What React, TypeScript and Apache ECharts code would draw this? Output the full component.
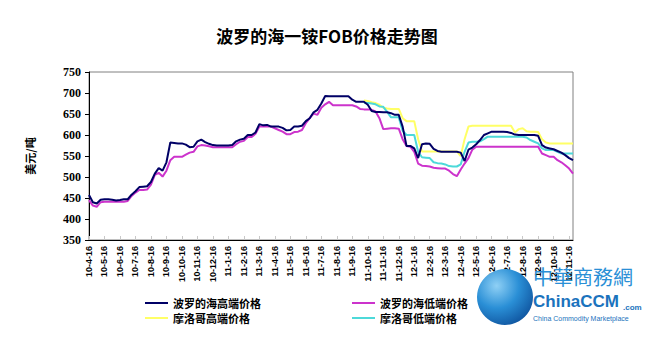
import React, { useEffect, useRef } from "react";
import * as echarts from "echarts";

const TITLE = "波罗的海一铵FOB价格走势图";
const Y_NAME = "美元/吨";
const SERIES_NAMES = ["波罗的海高端价格", "波罗的海低端价格", "摩洛哥高端价格", "摩洛哥低端价格"];

// month tick labels (each month split into 4 weekly slots)
const TICK_LABELS = [
  "10-4-16", "10-5-16", "10-6-16", "10-7-16", "10-8-16", "10-9-16", "10-10-16", "10-11-16",
  "10-12-16", "11-1-16", "11-2-16", "11-3-16", "11-4-16", "11-5-16", "11-6-16", "11-7-16",
  "11-8-16", "11-9-16", "11-10-16", "11-11-16", "11-12-16", "12-1-16", "12-2-16", "12-3-16",
  "12-4-16", "12-5-16", "12-6-16", "12-7-16", "12-8-16", "12-9-16", "12-10-16", "12-11-16",
];
const SLOTS_PER_MONTH = 4;
const TOTAL_SLOTS = 126;

const balticHigh = [
  457, 440, 437, 446, 447, 447, 446, 444, 445, 447,
  447, 458, 466, 476, 477, 478, 488, 508, 521, 515,
  535, 582, 581, 580, 580, 577, 571, 572, 585, 589,
  583, 579, 576, 575, 575, 575, 575, 576, 585, 589,
  591, 600, 600, 606, 626, 623, 624, 620, 620, 620,
  617, 611, 612, 620, 620, 622, 633, 640, 654, 660,
  675, 693, 692, 692, 692, 692, 692, 692, 684, 679,
  679, 679, 672, 657, 655, 655, 654, 654, 652, 648,
  648, 620, 574, 574, 568, 545, 578, 580, 579, 567,
  562, 560, 560, 560, 560, 560, 558, 538, 565, 570,
  578, 588, 600, 604, 608, 608, 608, 608, 607, 605,
  601, 600, 600, 600, 600, 600, 598, 576, 570, 568,
  566, 562, 558, 552, 545, 540,
];

const balticLow = [
  445, 432, 429, 440, 441, 441, 441, 441, 441, 441,
  443, 455, 463, 469, 469, 470, 482, 505, 510, 501,
  515, 540, 548, 548, 548, 553, 558, 560, 573, 576,
  575, 573, 571, 571, 571, 571, 571, 571, 578, 584,
  586, 595, 595, 603, 620, 620, 620, 620, 616, 612,
  608, 602, 602, 607, 608, 612, 628, 640, 651, 648,
  665, 673, 679, 671, 671, 671, 671, 671, 671, 668,
  662, 661, 661, 660, 656, 640, 614, 615, 616, 616,
  615, 590, 574, 572, 560, 532, 527, 526, 525, 522,
  521, 520, 520, 515, 507, 502, 518, 532, 545, 565,
  572, 572, 572, 572, 572, 572, 572, 572, 572, 572,
  572, 572, 572, 572, 572, 572, 572, 556, 552, 548,
  548, 540, 535, 528, 520, 508,
];

const moroccoHigh = [
  null, null, null, null, null, null, null, null, null, null,
  null, null, null, null, null, null, null, null, null, null,
  null, null, null, null, null, null, null, null, null, null,
  null, null, null, null, null, null, null, null, null, null,
  null, null, null, null, null, null, null, null, null, null,
  null, null, null, null, null, null, null, null, null, null,
  null, null, null, null, null, null, null, null, null, null,
  null, 682, 681, 678, 676, 672, 665, 663, 662, 662,
  662, 640, 633, 633, 633, 590, 561, 561, 561, 561,
  561, 561, 561, 561, 561, 561, 550, 590, 620, 622,
  622, 622, 622, 622, 622, 622, 622, 622, 622, 622,
  606, 614, 616, 609, 608, 608, 607, 590, 582, 580,
  580, 580, 580, 580, 580, 580,
];

const moroccoLow = [
  null, null, null, null, null, null, null, null, null, null,
  null, null, null, null, null, null, null, null, null, null,
  null, null, null, null, null, null, null, null, null, null,
  null, null, null, null, null, null, null, null, null, null,
  null, null, null, null, null, null, null, null, null, null,
  null, null, null, null, null, null, null, null, null, null,
  null, null, null, null, null, null, null, null, null, null,
  null, 677, 676, 675, 673, 668, 667, 655, 642, 642,
  642, 610, 600, 600, 600, 560, 547, 546, 545, 535,
  533, 532, 530, 526, 525, 525, 530, 560, 582, 584,
  584, 585, 590, 596, 596, 596, 596, 596, 596, 596,
  596, 596, 596, 594, 588, 584, 580, 568, 564, 564,
  564, 560, 556, 556, 556, 556,
];

const COLORS = ["#000066", "#cc33cc", "#ffff66", "#4dd9d9"];

function buildCategories(): string[] {
  const cats: string[] = [];
  TICK_LABELS.forEach((lab) => {
    for (let k = 0; k < SLOTS_PER_MONTH; k++) {
      cats.push(k === 0 ? lab : `${lab}#${k}`);
    }
  });
  return cats.slice(0, TOTAL_SLOTS);
}

export default function App() {
  const ref = useRef<HTMLDivElement>(null);

  useEffect(() => {
    document.body.style.margin = "0";
    if (!ref.current) return;
    const chart = echarts.init(ref.current, undefined, { renderer: "svg" });
    const categories = buildCategories();
    const datasets = [balticHigh, balticLow, moroccoHigh, moroccoLow];

    const cjk = "'Noto Sans CJK SC', 'Noto Sans', sans-serif";
    const legendText = {
      fontSize: 11,
      lineHeight: 12,
      fontWeight: "bold",
      color: "#000",
      fontFamily: cjk,
    };

    chart.setOption({
      animation: false,
      backgroundColor: "#ffffff",
      title: {
        text: TITLE,
        left: 322,
        textAlign: "center",
        top: 22,
        textStyle: { fontSize: 17, fontWeight: "bold", color: "#000", fontFamily: cjk },
      },
      legend: [
        {
          left: 145,
          top: 297,
          orient: "vertical",
          itemGap: 3,
          itemWidth: 23,
          itemHeight: 2,
          padding: 0,
          icon: "rect",
          data: [SERIES_NAMES[0], SERIES_NAMES[2]],
          textStyle: legendText,
        },
        {
          left: 352,
          top: 297,
          orient: "vertical",
          itemGap: 3,
          itemWidth: 23,
          itemHeight: 2,
          padding: 0,
          icon: "rect",
          data: [SERIES_NAMES[1], SERIES_NAMES[3]],
          textStyle: legendText,
        },
      ],
      grid: {
        left: 89,
        top: 72,
        right: 78,
        bottom: 99,
        show: true,
        borderColor: "#808080",
        borderWidth: 1,
        backgroundColor: "transparent",
      },
      xAxis: {
        type: "category",
        data: categories,
        boundaryGap: false,
        axisLine: { lineStyle: { color: "#000", width: 1 } },
        axisTick: {
          show: true,
          inside: true,
          length: 4,
          interval: SLOTS_PER_MONTH - 1,
          lineStyle: { color: "#c8c8c8" },
        },
        axisLabel: {
          interval: SLOTS_PER_MONTH - 1,
          rotate: 90,
          margin: 6,
          fontSize: 9,
          fontWeight: "bold",
          color: "#000",
          fontFamily: "'Liberation Sans', Arial, sans-serif",
          formatter: (v: string) => v.split("#")[0],
        },
        splitLine: { show: false },
      },
      yAxis: {
        type: "value",
        min: 350,
        max: 750,
        interval: 50,
        name: Y_NAME,
        nameLocation: "middle",
        nameRotate: 90,
        nameGap: 54,
        nameTextStyle: { fontSize: 11, fontWeight: "bold", color: "#000", fontFamily: cjk },
        axisLine: { show: true, lineStyle: { color: "#000", width: 1 } },
        axisTick: { show: true, length: 4, lineStyle: { color: "#000" } },
        axisLabel: {
          fontSize: 12,
          fontWeight: "bold",
          color: "#000",
          margin: 8,
          fontFamily: "'Liberation Serif', 'Times New Roman', serif",
        },
        splitLine: { show: false },
      },
      series: datasets.map((d, i) => ({
        name: SERIES_NAMES[i],
        type: "line",
        data: d,
        showSymbol: false,
        symbol: "none",
        connectNulls: false,
        lineStyle: { color: COLORS[i], width: 2 },
        itemStyle: { color: COLORS[i] },
        z: [4, 3, 1, 2][i],
      })),
      graphic: [
        {
          type: "circle",
          shape: { cx: 505, cy: 297, r: 28 },
          style: {
            fill: new echarts.graphic.RadialGradient(0.35, 0.3, 0.8, [
              { offset: 0, color: "#8fd0f5" },
              { offset: 0.5, color: "#2a8fd6" },
              { offset: 1, color: "#0d4f9a" },
            ]),
          },
          z: 10,
        },
        {
          type: "text",
          left: 533,
          top: 266,
          style: {
            text: "中華商務網",
            fontSize: 20,
            fill: "#2a8fd6",
            fontFamily: "'Noto Sans CJK TC', sans-serif",
          },
          z: 10,
        },
        {
          type: "text",
          left: 533,
          top: 293,
          style: {
            text: "ChinaCCM",
            fontSize: 17,
            fontWeight: "bold",
            fill: "#1b73bd",
            fontFamily: "'Liberation Sans', Arial, sans-serif",
          },
          z: 10,
        },
        {
          type: "text",
          left: 623,
          top: 303,
          style: {
            text: ".com",
            fontSize: 8,
            fontWeight: "bold",
            fill: "#1b73bd",
            fontFamily: "'Liberation Sans', Arial, sans-serif",
          },
          z: 10,
        },
        {
          type: "text",
          left: 533,
          top: 315,
          style: {
            text: "China Commodity Marketplace",
            fontSize: 7,
            fill: "#1b73bd",
            fontFamily: "'Liberation Sans', Arial, sans-serif",
          },
          z: 10,
        },
      ],
    });

    return () => {
      chart.dispose();
    };
  }, []);

  return (
    <div
      ref={ref}
      style={{ position: "fixed", left: 0, top: 0, width: 651, height: 339 }}
    />
  );
}
